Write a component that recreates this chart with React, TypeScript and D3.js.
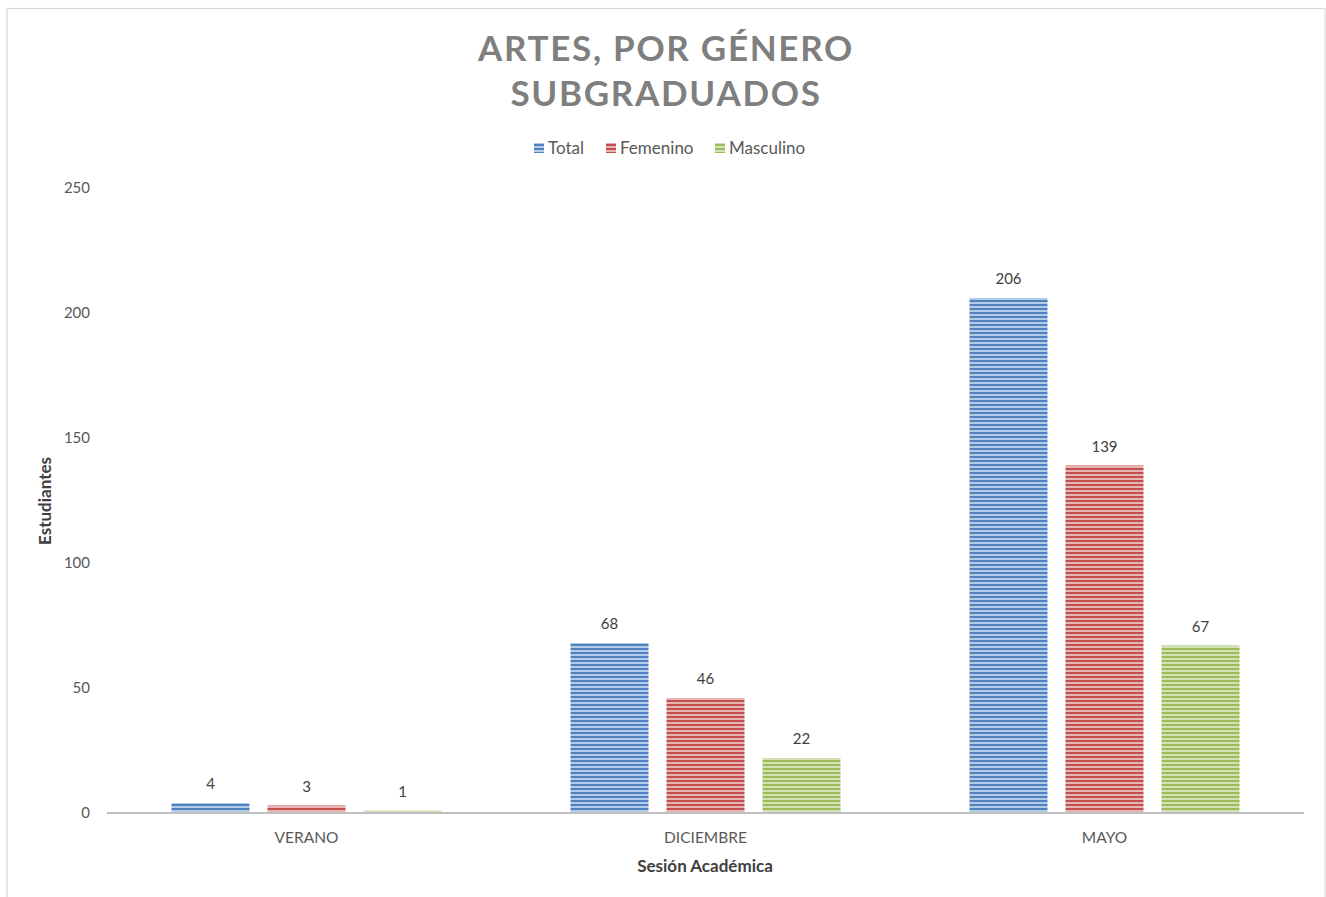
import React from "react";
import * as d3 from "d3";

const categories = ["VERANO", "DICIEMBRE", "MAYO"];
const seriesNames = ["Total", "Femenino", "Masculino"];
const totalValues = [4, 68, 206];
const femeninoValues = [3, 46, 139];
const masculinoValues = [1, 22, 67];
const yTicks = [0, 50, 100, 150, 200, 250];

const seriesValues = [totalValues, femeninoValues, masculinoValues];
const darkColors = ["#4F81BD", "#C0504D", "#9BBB59"];
const lightColors = ["#B4CBE8", "#E8B4B3", "#D3E2B5"];

const W = 1326;
const H = 897;
const FONT = "Lato, 'Open Sans', sans-serif";

export default function App() {
  const plotLeft = 107;
  const plotRight = 1304;
  const plotTop = 188;
  const plotBottom = 813;

  const x0 = d3.scaleBand<string>().domain(categories).range([plotLeft, plotRight]).paddingInner(0).paddingOuter(0);
  const groupW = 270;
  const x1 = d3
    .scaleBand<string>()
    .domain(seriesNames)
    .range([0, groupW])
    .paddingInner(18 / 96)
    .paddingOuter(0);
  const y = d3.scaleLinear().domain([0, 250]).range([plotBottom, plotTop]);

  return (
    <svg width={W} height={H} style={{ position: "absolute", left: 0, top: 0, fontFamily: FONT }}>
      <defs>
        {darkColors.map((c, i) => (
          <pattern key={i} id={`stripe${i}`} width={4} height={4} patternUnits="userSpaceOnUse">
            <rect width={4} height={4} fill={lightColors[i]} />
            <rect y={0} width={4} height={2} fill={c} />
          </pattern>
        ))}
      </defs>
      <rect x={0} y={0} width={W} height={H} fill="#fff" />
      <rect x={7} y={8.5} width={1318} height={895} fill="#fff" stroke="#D9D9D9" strokeWidth={1.2} />

      <text x={666} y={61} textAnchor="middle" fontSize={35} fontWeight={700} fill="#7F7F7F" letterSpacing={1.7}>
        ARTES, POR GÉNERO
      </text>
      <text x={666} y={106} textAnchor="middle" fontSize={35} fontWeight={700} fill="#7F7F7F" letterSpacing={1.7}>
        SUBGRADUADOS
      </text>

      {/* Legend */}
      {(() => {
        const items = [
          { x: 534, label: seriesNames[0] },
          { x: 606, label: seriesNames[1] },
          { x: 715, label: seriesNames[2] },
        ];
        return items.map((it, i) => (
          <g key={i}>
            <rect x={it.x} y={143} width={10} height={10} fill={`url(#stripe${i})`} />
            <text x={it.x + 14} y={154} fontSize={17} fill="#595959">
              {it.label}
            </text>
          </g>
        ));
      })()}

      {/* Y ticks */}
      {yTicks.map((t) => (
        <text key={t} x={90} y={y(t) + 5} textAnchor="end" fontSize={15} fill="#595959">
          {t}
        </text>
      ))}

      {/* Bars */}
      {categories.map((cat, ci) => {
        const gx = (x0(cat) as number) + (x0.bandwidth() - groupW) / 2;
        return (
          <g key={cat}>
            {seriesNames.map((s, si) => {
              const v = seriesValues[si][ci];
              const bx = gx + (x1(s) as number);
              const bw = x1.bandwidth();
              const top = y(v);
              return (
                <g key={s}>
                  <rect x={bx} y={top} width={bw} height={plotBottom - top} fill={`url(#stripe${si})`} />
                  <text x={bx + bw / 2} y={top - 14} textAnchor="middle" fontSize={15} fill="#404040">
                    {v}
                  </text>
                </g>
              );
            })}
            <text x={(x0(cat) as number) + x0.bandwidth() / 2} y={843} textAnchor="middle" fontSize={15.5} fill="#595959">
              {cat}
            </text>
          </g>
        );
      })}

      <line x1={plotLeft} x2={plotRight} y1={plotBottom} y2={plotBottom} stroke="#BFBFBF" strokeWidth={2} />

      <text x={705} y={872} textAnchor="middle" fontSize={17} fontWeight={700} fill="#404040">
        Sesión Académica
      </text>
      <text
        transform={`translate(51, 501) rotate(-90)`}
        textAnchor="middle"
        fontSize={17}
        fontWeight={700}
        fill="#404040"
      >
        Estudiantes
      </text>
    </svg>
  );
}
